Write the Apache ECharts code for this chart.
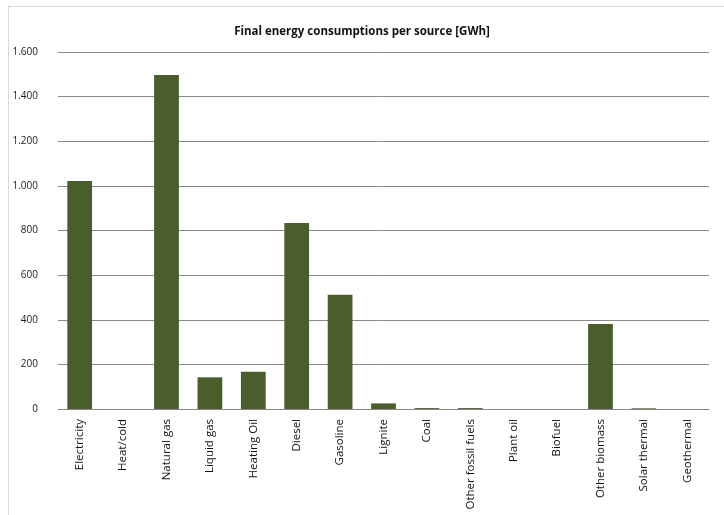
<!DOCTYPE html>
<html><head><meta charset="utf-8">
<script src="https://cdn.jsdelivr.net/npm/echarts@6/dist/echarts.min.js"></script>
<style>html,body{margin:0;padding:0;background:#fff}#c{width:724px;height:515px}
#frame{position:absolute;left:8px;top:6px;width:730px;height:520px;border-left:1px solid #d9d9d9;border-top:1px solid #d9d9d9}</style>
</head><body><div id="frame"></div><div id="c" style="position:absolute;left:0;top:0"></div>
<script>
const categories = ["Electricity","Heat/cold","Natural gas","Liquid gas","Heating Oil","Diesel","Gasoline","Lignite","Coal","Other fossil fuels","Plant oil","Biofuel","Other biomass","Solar thermal","Geothermal"];
const values = [1022, 0, 1497, 142, 167, 834, 512, 25, 4, 4, 0, 0, 381, 3, 0];
const yTicks = [0, 200, 400, 600, 800, 1000, 1200, 1400, 1600];
const chart = echarts.init(document.getElementById('c'), null, {renderer:'canvas'});
const font = '"Open Sans", "Liberation Sans", sans-serif';
chart.setOption({
  animation:false,
  title:{text:'Final energy consumptions per source [GWh]', left:'center', top:21,
    textStyle:{fontSize:11.5, fontWeight:'bold', color:'#111', fontFamily:font}},
  grid:{left:58, right:15, top:52, bottom:106},
  xAxis:{type:'category', data:categories,
    axisLine:{lineStyle:{color:'#888'}}, axisTick:{show:false},
    axisLabel:{rotate:90, interval:0, fontSize:11.5, color:'#111', fontFamily:font, margin:10}},
  yAxis:{type:'value', min:yTicks[0], max:yTicks[yTicks.length-1], interval:200,
    axisLine:{show:false}, axisTick:{show:false},
    splitLine:{lineStyle:{color:'#8a8a8a', width:1}},
    axisLabel:{fontSize:10, color:'#222', fontFamily:font, margin:20,
      formatter:v=>v>=1000? String(v).replace(/(\d)(\d{3})$/,'$1.$2') : String(v)}},
  series:[{type:'bar', data:values, barCategoryGap:'43%',
    itemStyle:{color:'#4a5e2c'}}]
});
</script></body></html>
